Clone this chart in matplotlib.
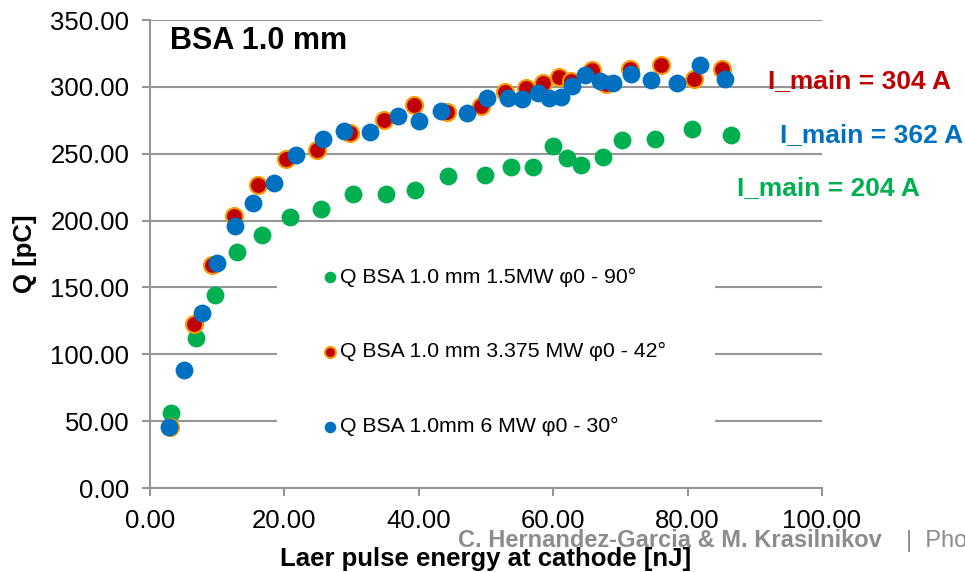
import matplotlib
matplotlib.use('Agg')
import matplotlib.pyplot as plt
from matplotlib.patches import Rectangle

plt.rcParams['font.family'] = ['Liberation Sans', 'DejaVu Sans']

# Q vs laser pulse energy, three gun settings
green_x = [3.1, 6.8, 9.7, 13.0, 16.7, 20.9, 25.4, 30.2, 35.1, 39.5, 44.4, 49.9,
           53.7, 57.0, 59.9, 62.1, 64.1, 67.4, 70.3, 75.1, 80.7, 86.4]
green_q = [55.8, 112, 144, 176.8, 189, 203, 208.4, 219.6, 219.6, 222.9, 233.6, 234.1,
           240.3, 240.3, 255.4, 246.7, 241.6, 247.8, 260.3, 260.8, 268.3, 264]

red_x = [3.0, 6.55, 9.3, 12.5, 16.1, 20.3, 24.9, 29.8, 34.8, 39.3, 44.2, 49.2,
         52.9, 56.0, 58.5, 60.9, 62.6, 65.8, 67.8, 71.4, 76.0, 80.9, 85.1]
red_q = [45.5, 122.4, 166.8, 203.4, 226.6, 245.8, 252.8, 265.3, 275.2, 286.5, 281, 285.7,
         295.8, 299, 302.8, 307.7, 304.5, 312.6, 302, 313.4, 316, 305.9, 313.6]

blue_x = [2.87, 5.1, 7.7, 10.0, 12.6, 15.3, 18.5, 21.8, 25.7, 28.9, 32.8, 36.9, 40.0,
          43.3, 47.1, 50.2, 53.3, 55.4, 57.8, 59.4, 61.2, 62.8, 64.8, 67.0, 68.9,
          71.6, 74.6, 78.4, 81.8, 85.5]
blue_q = [45.8, 88.3, 131, 168.5, 196, 213, 228.4, 249, 260.8, 267, 266, 278.5, 274.5,
          282, 280.2, 291.4, 291.4, 291, 295.6, 291.4, 292.2, 300.8, 308.5, 304.2, 302.8,
          309.4, 305.2, 303.2, 316.5, 305.7]

labels = ['Q BSA 1.0 mm 1.5MW φ0 - 90°',
          'Q BSA 1.0 mm 3.375 MW φ0 - 42°',
          'Q BSA 1.0mm 6 MW φ0 - 30°']
currents = ['I_main = 304 A', 'I_main = 362 A', 'I_main = 204 A']

GREEN = '#00B050'
RED = '#C00000'
ORANGE = '#F59B00'
BLUE = '#0070C0'
GRID = '#969696'

W, H = 965, 572
fig = plt.figure(figsize=(W / 100, H / 100), dpi=100)
ax = fig.add_axes([150 / W, 84 / H, 672 / W, 468 / H])

ax.scatter(green_x, green_q, s=165, color=GREEN, lw=0, zorder=3, label=labels[0])
ax.scatter(red_x, red_q, s=150, color=RED, edgecolors=ORANGE, linewidths=1.5,
           zorder=4, label=labels[1])
ax.scatter(blue_x, blue_q, s=165, color=BLUE, lw=0, zorder=5, label=labels[2])

ax.set_xlim(0, 100)
ax.set_ylim(0, 350)
ax.set_xticks(range(0, 101, 20))
ax.set_yticks(range(0, 351, 50))
ax.xaxis.set_major_formatter(lambda v, p: f'{v:.2f}')
ax.yaxis.set_major_formatter(lambda v, p: f'{v:.2f}')
ax.tick_params(labelsize=18.5, color=GRID, width=1.5, length=6, pad=9)

ax.set_axisbelow(True)
ax.grid(axis='y', color=GRID, lw=1.5)
for s in ['top', 'right']:
    ax.spines[s].set_visible(False)
for s in ['left', 'bottom']:
    ax.spines[s].set_color(GRID)
    ax.spines[s].set_linewidth(1.5)

# white legend area that hides the gridlines
ax.add_patch(Rectangle((0.189, 0.035), 0.652, 0.53, transform=ax.transAxes,
                       facecolor='white', edgecolor='none', zorder=1))
leg = ax.legend(loc='upper left', bbox_to_anchor=(0.2595, 0.471), frameon=False,
                fontsize=15.3, markerscale=0.65, handlelength=0.5, handletextpad=0.25,
                labelspacing=2.62, borderpad=0, borderaxespad=0)
leg.set_zorder(6)

ax.set_xlabel('Laer pulse energy at cathode [nJ]', fontsize=18.5, fontweight='bold')
ax.xaxis.set_label_coords(0.5, -0.126)
ax.set_ylabel('Q [pC]', fontsize=18.5, fontweight='bold')
ax.yaxis.set_label_coords(-0.168, 0.5)

fig.text(170 / W, 1 - 49 / H, 'BSA 1.0 mm', fontsize=22, fontweight='bold',
         va='baseline')
fig.text(768 / W, 1 - 88 / H, currents[0], color=RED, fontsize=19,
         fontweight='bold', va='baseline')
fig.text(780 / W, 1 - 142 / H, currents[1], color=BLUE, fontsize=19,
         fontweight='bold', va='baseline')
fig.text(737 / W, 1 - 195 / H, currents[2], color=GREEN, fontsize=19,
         fontweight='bold', va='baseline')

fig.text(458 / W, 1 - 547 / H, 'C. Hernandez-Garcia & M. Krasilnikov',
         color='#8c8c8c', fontsize=17, fontweight='bold', va='baseline')
fig.text(906 / W, 1 - 547 / H, '|  Phot', color='#8c8c8c', fontsize=17,
         va='baseline')

fig.savefig('out.png', dpi=100)
